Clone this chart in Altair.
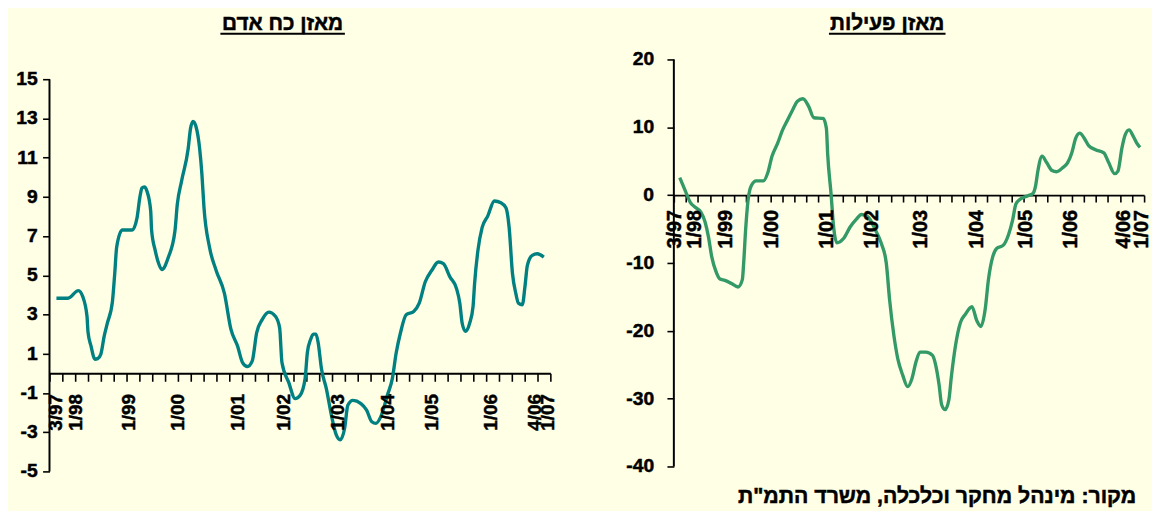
import altair as alt
import pandas as pd

BG = "#FFFFE6"
FONT = "Arial"

# ---------------- data (x in tick units: 0..39, one tick per quarter) ----------------
left_u = [0.54, 1.44, 2.25, 2.59, 2.92, 3.0, 3.23, 3.54, 3.75, 4.0, 4.26, 4.51, 4.9, 5.08, 5.23,
          5.67, 6.44, 6.82, 7.03, 7.2, 7.38, 7.59, 7.88, 7.95, 8.23, 8.5, 8.75, 9.26, 9.77, 9.95,
          10.28, 10.8, 10.98, 11.18, 11.4, 11.69, 11.87, 12.03, 12.46, 12.97, 13.62, 14.13, 14.64,
          15.03, 15.41, 15.79, 16.13, 16.56, 17.08, 17.59, 17.92, 18.1, 18.62, 19.13, 19.52, 19.9,
          20.08, 20.33, 20.55, 20.75, 20.92, 21.18, 21.56, 21.95, 22.33, 22.64, 22.98, 23.23, 23.62,
          24.25, 24.69, 25.1, 25.41, 25.79, 26.31, 26.69, 27.0, 27.33, 27.77, 28.36, 28.79, 29.26,
          29.77, 30.28, 30.67, 31.18, 31.69, 31.95, 32.13, 32.38, 32.72, 32.98, 33.1, 33.36, 33.69,
          34.13, 34.64, 35.15, 35.54, 35.79, 36.05, 36.31, 36.51, 36.82, 37.02, 37.21, 37.59, 37.98,
          38.49]
left_v = [3.83, 3.83, 4.22, 3.91, 2.91, 2.1, 1.40, 0.72, 0.75, 0.98, 1.90, 2.57, 3.66, 5.09, 6.43,
          7.31, 7.31, 7.94, 8.95, 9.45, 9.51, 9.29, 8.28, 7.3, 6.27, 5.6, 5.29, 5.93, 7.27, 8.61,
          9.79, 11.47, 12.48, 12.85, 12.6, 11.47, 10.13, 8.45, 6.43, 5.26, 4.08, 2.24, 1.40,
          0.55, 0.35, 0.64, 2.07, 2.74, 3.12, 2.91, 2.32, 0.55, -0.45, -1.29, -1.12, -0.28,
          1.06, 1.73, 2.0, 2.0, 1.56, 0.22, -0.79, -2.13, -3.14, -3.39, -2.80, -1.63, -1.38,
          -1.54, -1.88, -2.47, -2.55, -2.22, -1.12, -0.28, 1.06, 2.07, 2.99, 3.16, 3.58, 4.67,
          5.26, 5.68, 5.59, 4.92, 4.33, 3.58, 2.57, 2.15, 2.57, 3.41, 4.58, 6.27, 7.44,
          8.03, 8.79, 8.70, 8.45, 7.44, 5.09, 4.08, 3.58, 3.5, 4.42, 5.51, 6.02, 6.10,
          5.93]

right_u = [0.49, 0.95, 1.36, 1.77, 2.24, 2.59, 2.87, 3.14, 3.49, 3.82, 4.23, 4.78, 5.33, 5.68,
           5.79, 5.95, 6.15, 6.42, 6.83, 7.43, 7.79, 8.14, 8.61, 9.02, 9.43, 9.84, 10.25, 10.7,
           11.2, 11.61, 12.38, 12.65, 12.76, 13.04, 13.25, 13.52, 14.07, 14.62, 15.16, 15.57,
           16.12, 16.66, 17.21, 17.62, 17.89, 18.25, 18.57, 18.98, 19.39, 19.75, 20.08, 20.41,
           20.9, 21.45, 21.72, 22.0, 22.21, 22.5, 22.81, 23.0, 23.36, 23.77, 24.18, 24.72, 25.13,
           25.46, 25.82, 26.09, 26.45, 26.77, 27.33, 27.74, 28.09, 28.37, 28.83, 29.38, 29.78,
           30.0, 30.19, 30.54, 30.93, 31.36, 31.75, 32.24, 32.65, 33.0, 33.33, 33.66, 34.1, 34.4,
           34.97, 35.66, 36.07, 36.56, 36.83, 37.16, 37.43, 37.75, 38.11, 38.39, 38.66]
right_v = [2.58, 0.64, -1.06, -1.79, -2.52, -3.97, -6.16, -9.07, -11.25, -12.37, -12.56, -13.04,
           -13.54, -12.46, -10.04, -5.18, -0.82, 1.37, 2.10, 2.10, 3.30, 5.73, 7.67, 9.61, 11.06,
           12.52, 13.83, 14.2, 13.01, 11.41, 11.31, 9.85, 5.97, 0.15, -4.70, -7.03, -6.40, -4.70,
           -3.49, -2.85, -3.25, -4.95, -7.13, -10.04, -15.37, -20.71, -24.10, -26.54, -28.24,
           -27.02, -24.60, -23.14, -23.14, -23.62, -25.08, -27.99, -30.90, -31.63, -30.17, -27.02,
           -22.17, -18.78, -17.55, -16.45, -18.53, -19.36, -16.83, -12.46, -9.07, -7.86, -7.37,
           -5.91, -3.73, -1.31, -0.48, -0.09, 0.25, 1.37, 3.55, 5.73, 4.76, 3.64, 3.45, 4.03,
           4.76, 6.22, 8.40, 9.13, 8.2, 7.3, 6.70, 6.22, 4.76, 3.16, 3.55, 6.94, 8.88, 9.61,
           8.64, 7.67, 7.05]

x_labels = ["3/97", "1/98", "1/99", "1/00", "1/01", "1/02", "1/03", "1/04", "1/05", "1/06",
            "4/06", "1/07"]
left_label_pos = [0.54, 2.08, 6.18, 10.03, 14.7, 18.26, 22.5, 26.4, 29.8, 34.4, 37.8, 38.85]
right_label_pos = [0.13, 1.77, 4.37, 8.11, 12.67, 16.44, 20.52, 25.16, 29.23, 32.95, 37.3, 38.8]
x_ticks = list(range(40))

left_yticks = [-5, -3, -1, 1, 3, 5, 7, 9, 11, 13, 15]
right_yticks = [-40, -30, -20, -10, 0, 10, 20]

left_title = "מאזן כח אדם"
right_title = "מאזן פעילות"
source_text = "מקור: מינהל מחקר וכלכלה, משרד התמ\"ת"

THICK = dict(stroke="black", strokeWidth=0.5)


def panel(u, v, lbl_pos, color, title, ydom, yline, yticks, w, h, title_cx, title_y,
          ul_half, label_gap, label_size, tick_len, extent, ylab_x, ylab_size):
    xs = alt.Scale(domain=[0, 39], nice=False, zero=False)
    ys = alt.Scale(domain=ydom, nice=False, zero=False)
    zero_off = -h * (0 - ydom[0]) / (ydom[1] - ydom[0])
    xaxis = alt.Axis(values=x_ticks, labels=False, title=None, offset=zero_off,
                     tickSize=tick_len, domainColor="black", tickColor="black",
                     domainWidth=2, tickWidth=1.6, grid=False)
    yaxis = alt.Axis(values=yticks, title=None, tickSize=7, domain=False, labels=False,
                     tickColor="black", tickWidth=1.6, grid=False,
                     minExtent=extent, maxExtent=extent)
    df = pd.DataFrame({"u": u, "v": v})
    line = alt.Chart(df).mark_line(color=color, strokeWidth=3.4, interpolate="monotone").encode(
        x=alt.X("u:Q", scale=xs, axis=xaxis),
        y=alt.Y("v:Q", scale=ys, axis=yaxis),
    )
    ydf = pd.DataFrame({"u": [0], "v": [yline[1]], "v2": [yline[0]]})
    yaxis_line = alt.Chart(ydf).mark_rule(color="black", strokeWidth=2).encode(
        x=alt.X("u:Q", scale=xs, axis=xaxis),
        y=alt.Y("v:Q", scale=ys, axis=yaxis),
        y2="v2:Q",
    )
    ytdf = pd.DataFrame({"v": yticks, "t": [str(t) for t in yticks]})
    ylabels = alt.Chart(ytdf).mark_text(align="right", baseline="middle", font=FONT,
                                        fontSize=ylab_size, fontWeight="bold", color="black",
                                        **THICK).encode(
        x=alt.value(ylab_x),
        y=alt.Y("v:Q", scale=ys, axis=yaxis),
        text="t:N",
    )
    ldf = pd.DataFrame({"u": lbl_pos, "t": x_labels, "v": [0] * len(lbl_pos)})
    labels = alt.Chart(ldf).mark_text(angle=270, align="right", baseline="middle",
                                      dx=-label_gap, font=FONT, fontSize=label_size,
                                      fontWeight="bold", color="black", **THICK).encode(
        x=alt.X("u:Q", scale=xs, axis=xaxis),
        y=alt.Y("v:Q", scale=ys, axis=yaxis),
        text="t:N",
    )
    one = pd.DataFrame({"t": [title]})
    ttl = alt.Chart(one).mark_text(align="center", baseline="middle", font=FONT, fontSize=21,
                                   fontWeight="bold", color="black", **THICK).encode(
        x=alt.value(title_cx), y=alt.value(title_y), text="t:N")
    ul = alt.Chart(one).mark_rule(color="black", strokeWidth=2).encode(
        x=alt.value(title_cx - ul_half), x2=alt.value(title_cx + ul_half),
        y=alt.value(title_y + 10))
    return alt.layer(line, yaxis_line, ylabels, labels, ttl, ul).properties(width=w, height=h)


# left: 15 sits 20px below the common panel top, -5 at the bottom
left = panel(left_u, left_v, left_label_pos, "#008080", left_title, [-5, 16.0076], [-5, 15],
             left_yticks, 507, 417, 236, -36, 63, 21, 19, 8, 32, -12, 19.5)

right_panel = panel(right_u, right_v, right_label_pos, "#339966", right_title, [-40, 20],
                    [-40, 20], right_yticks, 476, 412, 216, -36, 59, 15, 20, 7, 45, -20, 19.5)

src = alt.Chart(pd.DataFrame({"t": [source_text]})).mark_text(
    align="right", baseline="middle", font=FONT, fontSize=21.5, fontWeight="bold", color="black",
    **THICK
).encode(x=alt.value(468), y=alt.value(443), text="t:N")

right = alt.layer(right_panel, src)

chart = alt.hconcat(left, right, spacing=67).properties(
    background=BG, padding={"left": 8, "top": 2, "right": 0, "bottom": 0}
).configure_view(stroke=None)

chart.save("out.html", embed_options={"renderer": "svg", "actions": False})
